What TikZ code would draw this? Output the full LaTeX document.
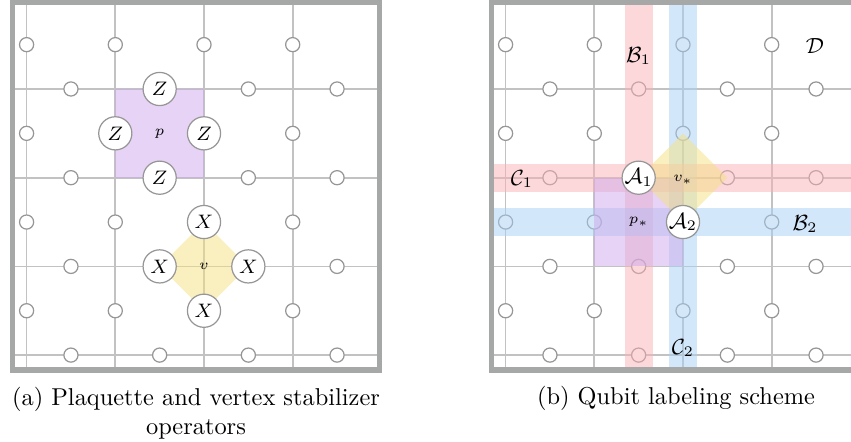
\documentclass[tikz,border=0pt]{standalone}
\definecolor{framegray}{RGB}{165,168,166}
\definecolor{gridgray}{RGB}{194,194,194}
\definecolor{qgray}{RGB}{150,150,150}
\definecolor{purpleb}{RGB}{205,168,236}
\definecolor{yellowb}{RGB}{245,225,128}
\definecolor{redb}{RGB}{250,178,184}
\definecolor{blueb}{RGB}{168,208,245}
\tikzset{
  gridline/.style={draw=gridgray, line width=0.7pt},
  qubit/.style={circle, draw=qgray, fill=white, line width=0.5pt, minimum size=5.8pt, inner sep=0pt},
  opq/.style={circle, draw=qgray, fill=white, line width=0.5pt, minimum size=13.6pt, inner sep=0pt, font=\fontsize{7.6}{8}\selectfont},
  calfont/.style={font=\fontsize{9}{10}\selectfont},
  framebox/.style={draw=framegray, line width=2.3pt},
  tint/.style={fill opacity=0.5},
  lbl/.style={inner sep=0pt, font=\fontsize{9}{10}\selectfont},
  smalllbl/.style={inner sep=0pt, font=\fontsize{6.3}{7}\selectfont},
  captext/.style={font=\fontsize{10}{12}\selectfont, inner sep=0pt, align=center},
}
\def\skipq#1{\expandafter\def\csname qskip-#1\endcsname{}}
\skipq{a-H-1-0}\skipq{a-V-1-1}\skipq{a-V-2-1}\skipq{a-H-1-1}
\skipq{a-V-2-2}\skipq{a-H-1-2}\skipq{a-H-2-2}\skipq{a-V-2-3}
\skipq{b-H-1-1}\skipq{b-V-2-2}
\begin{document}
\begin{tikzpicture}[x=0.41pt,y=-0.41pt]
\useasboundingbox (0,0) rectangle (851,442);
\def\gx{26.6}\def\gy{89}\def\gs{88.7}
% lattice and plain qubits of both panels
\foreach \p/\dx in {a/0,b/479}{
  \begin{scope}[shift={(\dx,0)}]
    \begin{scope}
      \clip (12.5,2) rectangle (379.5,370);
      \foreach \i in {0,...,4} \draw[gridline] ({\gx+\i*\gs},-10) -- ({\gx+\i*\gs},380);
      \foreach \j in {-1,...,4} \draw[gridline] (0,{\gy+\j*\gs}) -- (400,{\gy+\j*\gs});
    \end{scope}
    \foreach \i in {0,...,3}{\foreach \j in {0,...,3}{
      \ifcsname qskip-\p-V-\i-\j\endcsname\else
        \node[qubit] (\p-V-\i-\j) at ({\gx+\i*\gs},{\gy-\gs/2+\j*\gs}) {};
      \fi
      \ifcsname qskip-\p-H-\i-\j\endcsname\else
        \node[qubit] (\p-H-\i-\j) at ({\gx+\gs/2+\i*\gs},{\gy+\j*\gs}) {};
      \fi
    }}
  \end{scope}
}
% panel (a)
\fill[purpleb, tint] (115.3,89) rectangle (204,177.7);
\fill[yellowb, tint] (204,222.05) -- (248.35,266.4) -- (204,310.75) -- (159.65,266.4) -- cycle;
\node[smalllbl] (plab) at (159.65,133.35) {$p$};
\node[smalllbl] (vlab) at (204,266.4) {$v$};
\node[opq] (z1) at (159.65,89) {$Z$};
\node[opq] (z2) at (115.3,133.35) {$Z$};
\node[opq] (z3) at (204,133.35) {$Z$};
\node[opq] (z4) at (159.65,177.7) {$Z$};
\node[opq] (x1) at (204,222.05) {$X$};
\node[opq] (x2) at (159.65,266.4) {$X$};
\node[opq] (x3) at (248.35,266.4) {$X$};
\node[opq] (x4) at (204,310.75) {$X$};
% panel (b)
\begin{scope}[shift={(479,0)}]
  \begin{scope}
    \clip (12.5,2) rectangle (379.5,370);
    \fill[redb, tint] (145.65,-10) rectangle (173.65,380);
    \fill[blueb, tint] (190,-10) rectangle (218,380);
    \fill[redb, tint] (0,163.7) rectangle (400,191.7);
    \fill[blueb, tint] (0,208.05) rectangle (400,236.05);
    \fill[purpleb, tint] (115.3,177.7) rectangle (204,266.4);
    \fill[yellowb, tint] (204,133.35) -- (248.35,177.7) -- (204,222.05) -- (159.65,177.7) -- cycle;
  \end{scope}
  \node[smalllbl] (pstar) at (159.65,222.05) {$p_*$};
  \node[smalllbl] (vstar) at (204,180) {$v_*$};
  \node[opq, calfont] (A1) at (159.65,177.7) {$\mathcal{A}_1$};
  \node[opq, calfont] (A2) at (204,222.05) {$\mathcal{A}_2$};
  \node[lbl] (B1) at (159.65,56) {$\mathcal{B}_1$};
  \node[lbl] (B2) at (326,224) {$\mathcal{B}_2$};
  \node[lbl] (C1) at (43,179) {$\mathcal{C}_1$};
  \node[lbl] (C2) at (204,348) {$\mathcal{C}_2$};
  \node[lbl] (D) at (336,46) {$\mathcal{D}$};
\end{scope}
% frames
\draw[framebox] (12.5,2) rectangle (379.5,370);
\draw[framebox] (491.5,2) rectangle (858.5,370);
% captions
\node[captext, anchor=north] (capa) at (196,386.5) {(a) Plaquette and vertex stabilizer\\operators};
\node[captext, anchor=base] (capb) at (676,404.5) {(b) Qubit labeling scheme};
\end{tikzpicture}
\end{document}
